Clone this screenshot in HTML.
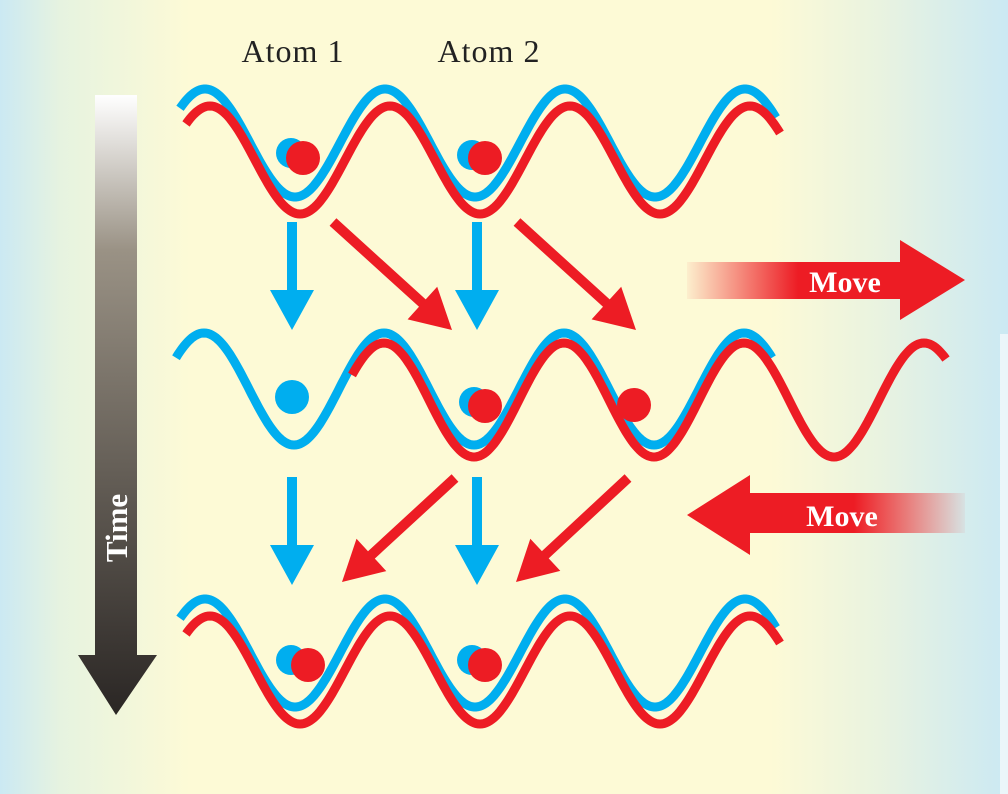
<!DOCTYPE html>
<html><head><meta charset="utf-8">
<style>
html,body{margin:0;padding:0;}
body{width:1008px;height:794px;overflow:hidden;background:linear-gradient(90deg,#cbe9f3 0px,#e6f3e0 60px,#fdfad6 190px,#fdfad6 770px,#e9f3e0 880px,#cbe9f3 1008px);}
svg{position:absolute;left:0;top:0;}
</style></head><body>
<svg id="s" width="1008" height="794" xmlns="http://www.w3.org/2000/svg">
<defs>
<linearGradient id="tg" x1="0" y1="0" x2="0" y2="1">
<stop offset="0" stop-color="#ffffff"/><stop offset="0.25" stop-color="#9a9285"/><stop offset="1" stop-color="#2a2624"/>
</linearGradient>
<linearGradient id="mr" x1="0" y1="0" x2="1" y2="0">
<stop offset="0" stop-color="#ed1c24" stop-opacity="0.05"/><stop offset="0.4" stop-color="#ed1c24"/><stop offset="1" stop-color="#ed1c24"/>
</linearGradient>
<linearGradient id="ml" x1="0" y1="0" x2="1" y2="0">
<stop offset="0" stop-color="#ed1c24"/><stop offset="0.6" stop-color="#ed1c24"/><stop offset="1" stop-color="#ed1c24" stop-opacity="0.05"/>
</linearGradient>
</defs>
<rect x="1000" y="334" width="8" height="460" fill="#ffffff" opacity="0.6"/>
<polygon points="95,95 137,95 137,655 157,655 116,715 78,655 95,655" fill="url(#tg)"/>
<text transform="translate(127,528) rotate(-90)" font-family="Liberation Serif, serif" font-weight="bold" font-size="31" fill="#fff" text-anchor="middle">Time</text>
<text x="293" y="62" font-family="Liberation Serif, serif" font-size="32" letter-spacing="1" fill="#222" text-anchor="middle">Atom 1</text>
<text x="489" y="62" font-family="Liberation Serif, serif" font-size="32" letter-spacing="1" fill="#222" text-anchor="middle">Atom 2</text>
<g id="waves" fill="none" stroke-width="9"></g>
<g id="dots">
<circle cx="291" cy="153" r="15" fill="#00aeef"/><circle cx="303" cy="158" r="17" fill="#ed1c24"/>
<circle cx="472" cy="155" r="15" fill="#00aeef"/><circle cx="485" cy="158" r="17" fill="#ed1c24"/>
<circle cx="292" cy="397" r="17" fill="#00aeef"/>
<circle cx="474" cy="402" r="15" fill="#00aeef"/><circle cx="485" cy="406" r="17" fill="#ed1c24"/>
<circle cx="634" cy="405" r="17" fill="#ed1c24"/>
<circle cx="291" cy="660" r="15" fill="#00aeef"/><circle cx="308" cy="665" r="17" fill="#ed1c24"/>
<circle cx="472" cy="660" r="15" fill="#00aeef"/><circle cx="485" cy="665" r="17" fill="#ed1c24"/>
</g>
<g id="arrows"></g>
<polygon points="687,262 900,262 900,240 965,280 900,320 900,299 687,299" fill="url(#mr)"/>
<text x="845" y="292" font-family="Liberation Serif, serif" font-weight="bold" font-size="30" fill="#fff" text-anchor="middle">Move</text>
<polygon points="965,493 750,493 750,475 687,515 750,555 750,533 965,533" fill="url(#ml)"/>
<text x="842" y="526" font-family="Liberation Serif, serif" font-weight="bold" font-size="30" fill="#fff" text-anchor="middle">Move</text>
</svg>
<script>
var NS="http://www.w3.org/2000/svg";
function wave(x0,x1,peak,c,A,col){var d="";for(var x=x0;x<=x1;x+=2){var y=c-A*Math.cos(2*Math.PI*(x-peak)/180);d+=(x==x0?"M":"L")+x+","+y.toFixed(1);}
var p=document.createElementNS(NS,"path");p.setAttribute("d",d);p.setAttribute("stroke",col);p.setAttribute("fill","none");p.setAttribute("stroke-width","9");document.getElementById("waves").appendChild(p);}
wave(180,776,205,143,54,"#00aeef");wave(186,780,210,160,54,"#ed1c24");
wave(176,772,204,389,56,"#00aeef");wave(352,946,384,400,57,"#ed1c24");
wave(180,776,205,653,54,"#00aeef");wave(186,780,210,670,54,"#ed1c24");
function arr(x1,y1,x2,y2,col){var dx=x2-x1,dy=y2-y1,L=Math.hypot(dx,dy),ux=dx/L,uy=dy/L,nx=-uy,ny=ux,h=40,w=22,t=5;
var bx=x2-ux*h,by=y2-uy*h;
var pts=[[x1+nx*t,y1+ny*t],[bx+nx*t,by+ny*t],[bx+nx*w,by+ny*w],[x2,y2],[bx-nx*w,by-ny*w],[bx-nx*t,by-ny*t],[x1-nx*t,y1-ny*t]];
var p=document.createElementNS(NS,"polygon");p.setAttribute("points",pts.map(function(a){return a[0].toFixed(1)+","+a[1].toFixed(1)}).join(" "));p.setAttribute("fill",col);document.getElementById("arrows").appendChild(p);}
arr(292,222,292,330,"#00aeef");arr(477,222,477,330,"#00aeef");
arr(333,222,452,330,"#ed1c24");arr(517,222,636,330,"#ed1c24");
arr(292,477,292,585,"#00aeef");arr(477,477,477,585,"#00aeef");
arr(455,478,342,582,"#ed1c24");arr(628,478,516,582,"#ed1c24");
</script>
</body></html>
